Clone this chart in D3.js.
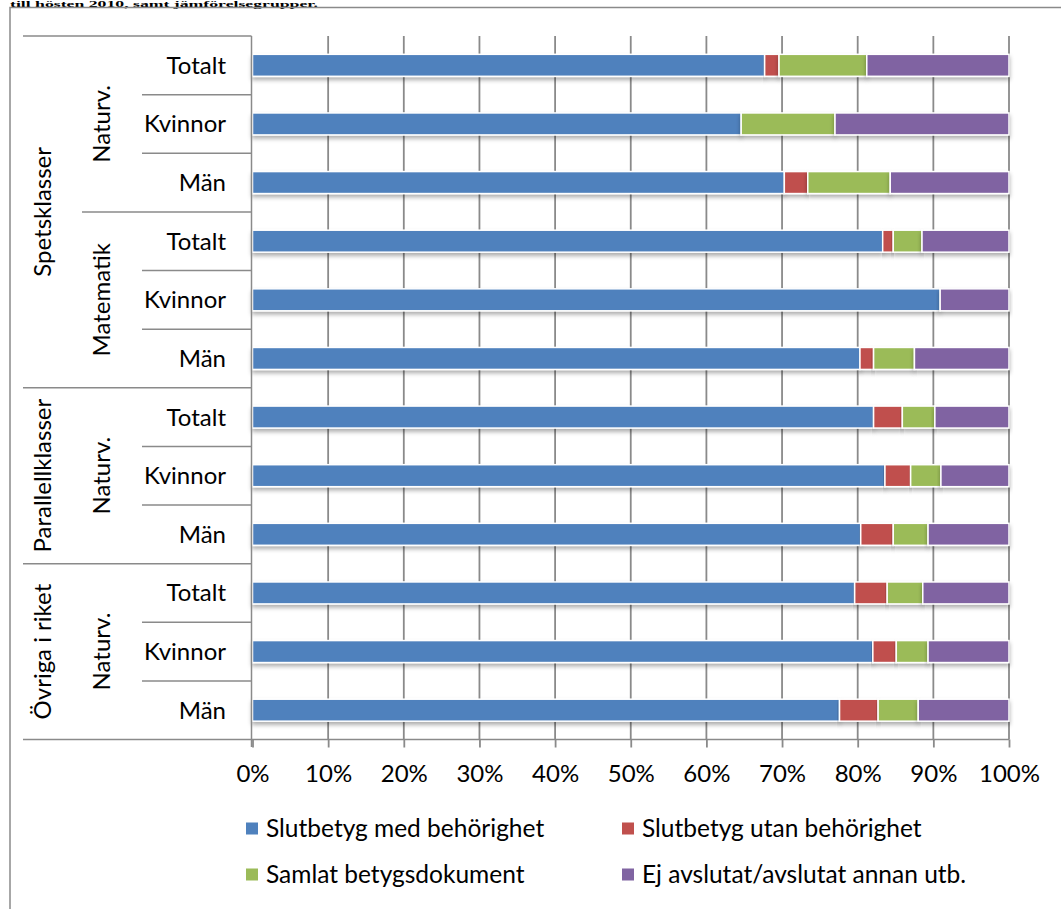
<!DOCTYPE html>
<html><head><meta charset="utf-8">
<script src="https://cdn.jsdelivr.net/npm/d3@7"></script>
<style>body{margin:0;background:#fff}svg{display:block}</style>
</head><body>
<script>
// ---- data ----
const rowLabels = ["Totalt","Kvinnor","Män","Totalt","Kvinnor","Män","Totalt","Kvinnor","Män","Totalt","Kvinnor","Män"];
const subLabels = ["Naturv.","Matematik","Naturv.","Naturv."];
const groupLabels = ["Spetsklasser","Parallellklasser","Övriga i riket"];
const subOfRow = [0,0,0,1,1,1,2,2,2,3,3,3];
const groupOfSub = [0,0,1,2];
const seriesNames = ["Slutbetyg med behörighet","Slutbetyg utan behörighet","Samlat betygsdokument","Ej avslutat/avslutat annan utb."];
const medBehorighet  = [67.7, 64.6, 70.3, 83.3, 90.9, 80.3, 82.1, 83.6, 80.4, 79.6, 82.0, 77.6];
const utanBehorighet = [ 1.9,  0.0,  3.1,  1.4,  0.0,  1.8,  3.8,  3.4,  4.3,  4.3,  3.1,  5.1];
const samlatDokument = [11.6, 12.4, 10.9,  3.8,  0.0,  5.4,  4.3,  4.0,  4.6,  4.7,  4.2,  5.3];
const ejAvslutat     = [18.8, 23.0, 15.7, 11.5,  9.1, 12.5,  9.8,  9.0, 10.7, 11.4, 10.7, 12.0];
const tickValues = [0,10,20,30,40,50,60,70,80,90,100];
const tickLabels = ["0%","10%","20%","30%","40%","50%","60%","70%","80%","90%","100%"];
const titleText = "till hösten 2010, samt jämförelsegrupper.";

const colors = ["#4F81BD","#C0504D","#9BBB59","#8064A2"];
const W = 1061, H = 909;
const FONT = "Lato, 'Open Sans', sans-serif";
const FS = 24;

const table = rowLabels.map((l,i)=>({i, v0:medBehorighet[i], v1:utanBehorighet[i], v2:samlatDokument[i], v3:ejAvslutat[i]}));
const stack = d3.stack().keys(["v0","v1","v2","v3"])(table);

const svg = d3.select("body").append("svg").attr("width",W).attr("height",H);
const defs = svg.append("defs");
const f = defs.append("filter").attr("id","sh").attr("x","-5%").attr("y","-50%").attr("width","110%").attr("height","220%");
f.append("feDropShadow").attr("dx",0).attr("dy",3).attr("stdDeviation",2.2).attr("flood-color","#000").attr("flood-opacity",0.32);

// title (top line of the page, above the frame)
svg.append("text").attr("x",10).attr("y",6.5).attr("font-family","'Liberation Serif', serif").attr("font-weight","bold")
  .attr("font-size",9).attr("textLength",308).attr("lengthAdjust","spacingAndGlyphs").attr("fill","#000").text(titleText);

// outer frame
const gray = "#8a8a8a";
svg.append("path").attr("d",`M10,${H} V7.5 H${W}`).attr("fill","none").attr("stroke",gray).attr("stroke-width",1.5);

const x = d3.scaleLinear().domain([0,100]).range([252.5,1009]);
const y = d3.scaleBand().domain(d3.range(rowLabels.length)).range([36,739.5]);
const barH = y.bandwidth()*0.375;

// gridlines
svg.append("g").selectAll("line").data(tickValues.slice(1)).join("line")
  .attr("x1",d=>x(d)).attr("x2",d=>x(d)).attr("y1",36).attr("y2",739.5)
  .attr("stroke",gray).attr("stroke-width",1.8);

// bars
const gb = svg.append("g");
stack.forEach((s,k)=>{
  gb.append("g").attr("fill",colors[k]).selectAll("rect").data(s.filter(d=>d[1]-d[0]>0)).join("rect")
    .attr("x",d=>x(d[0])).attr("width",d=>x(d[1])-x(d[0]))
    .attr("y",d=>y(d.data.i)+(y.bandwidth()-barH)/2).attr("height",barH)
    .attr("stroke","#fff").attr("stroke-width",1.5).attr("filter","url(#sh)");
});

// axis lines & ticks
const axisG = svg.append("g").attr("transform",`translate(0,739.5)`);
const xAxis = d3.axisBottom(x).tickValues(tickValues).tickFormat((d,i)=>tickLabels[i]).tickSize(8).tickPadding(10);
axisG.call(xAxis);
axisG.select(".domain").remove();
axisG.selectAll(".tick line").attr("stroke",gray).attr("stroke-width",1.8);
axisG.selectAll(".tick text").attr("font-family",FONT).attr("font-size",FS).attr("fill","#000").attr("dy",null).attr("y",42.5);
svg.append("line").attr("x1",23).attr("x2",1009).attr("y1",739.5).attr("y2",739.5).attr("stroke",gray).attr("stroke-width",1.5);
svg.append("line").attr("x1",251.5).attr("x2",251.5).attr("y1",36).attr("y2",747).attr("stroke",gray).attr("stroke-width",1.5);

// category label separators
const sep = svg.append("g").attr("stroke",gray).attr("stroke-width",1.5);
sep.append("line").attr("x1",23).attr("x2",251.5).attr("y1",36).attr("y2",36);
rowLabels.forEach((l,i)=>{
  if(i===0) return;
  const yy = y(i);
  let x1 = 142;
  if(subOfRow[i]!==subOfRow[i-1]) x1 = 82;
  if(groupOfSub[subOfRow[i]]!==groupOfSub[subOfRow[i-1]]) x1 = 23;
  sep.append("line").attr("x1",x1).attr("x2",251.5).attr("y1",yy).attr("y2",yy);
});

// row labels
svg.append("g").selectAll("text").data(rowLabels).join("text")
  .attr("x",226).attr("y",(d,i)=>y(i)+y.bandwidth()/2+8.5).attr("text-anchor","end")
  .attr("font-family",FONT).attr("font-size",FS).attr("fill","#000").text(d=>d);

// sub labels
subLabels.forEach((s,j)=>{
  const rows = d3.range(rowLabels.length).filter(i=>subOfRow[i]===j);
  const cy = (y(rows[0]) + y(rows[rows.length-1]) + y.bandwidth())/2;
  svg.append("text").attr("transform",`translate(110,${cy}) rotate(-90)`).attr("text-anchor","middle")
    .attr("font-family",FONT).attr("font-size",FS).attr("fill","#000").text(s);
});
// group labels
groupLabels.forEach((g,k)=>{
  const rows = d3.range(rowLabels.length).filter(i=>groupOfSub[subOfRow[i]]===k);
  const cy = (y(rows[0]) + y(rows[rows.length-1]) + y.bandwidth())/2;
  svg.append("text").attr("transform",`translate(50.5,${cy}) rotate(-90)`).attr("text-anchor","middle")
    .attr("font-family",FONT).attr("font-size",FS).attr("fill","#000").text(g);
});

// legend
const legPos = [[246,828.5],[622,828.5],[246,874.5],[622,874.5]];
const lg = svg.append("g");
seriesNames.forEach((n,k)=>{
  const [lx,ly] = legPos[k];
  lg.append("rect").attr("x",lx).attr("y",ly-6).attr("width",12).attr("height",12).attr("fill",colors[k]);
  lg.append("text").attr("x",lx+20).attr("y",ly+8.5).attr("font-family",FONT).attr("font-size",24.5).attr("fill","#000").text(n);
});
</script>
</body></html>
